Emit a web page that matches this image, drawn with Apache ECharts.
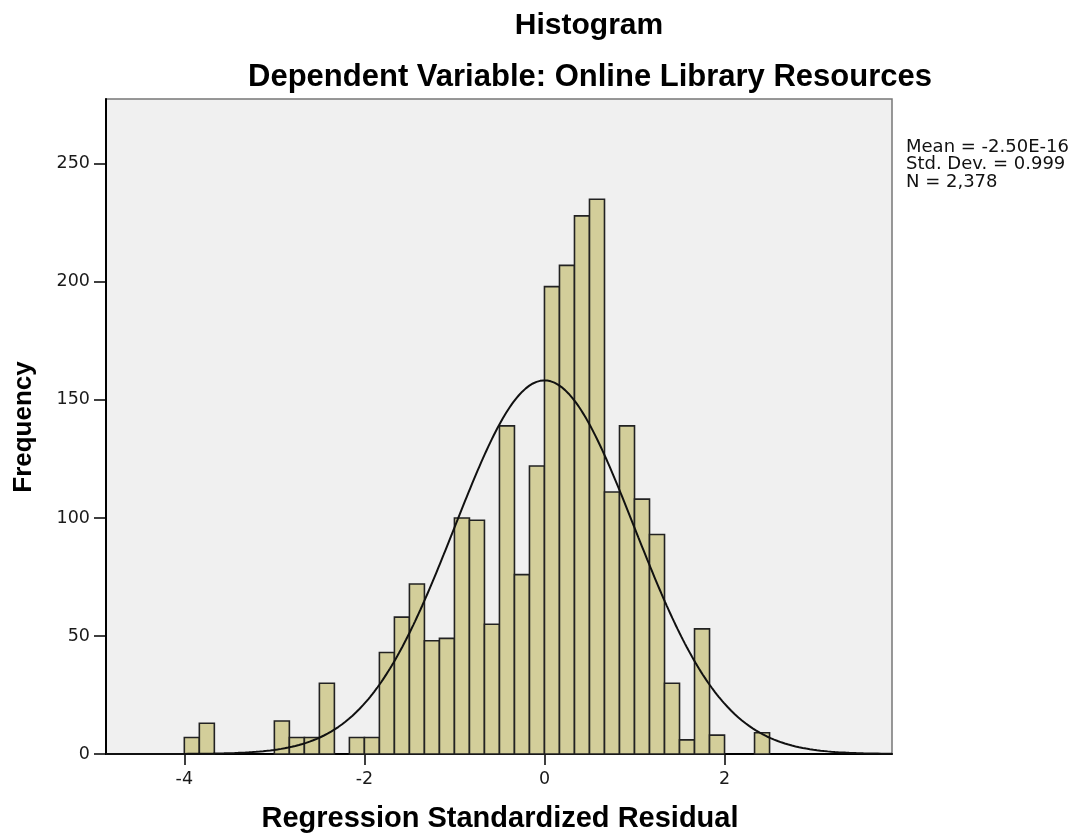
<!DOCTYPE html>
<html>
<head>
<meta charset="utf-8">
<script src="https://cdn.jsdelivr.net/npm/echarts@6/dist/echarts.min.js"></script>
<style>
  html, body { margin: 0; padding: 0; background: #fff; }
  #chart { width: 1075px; height: 834px; }
</style>
</head>
<body>
<div id="chart"></div>
<script>
// ---- data ----
const binLow = -4;          // lower edge of first bin
const binWidth = 1 / 6;     // bin width
const frequencies = [7, 13, 0, 0, 0, 0, 14, 7, 7, 30, 0, 7, 7, 43, 58, 72, 48, 49, 100, 99,
                     55, 139, 76, 122, 198, 207, 228, 235, 111, 139, 108, 93, 30, 6, 53, 8, 0, 0, 9];
const xTicks = [-4, -2, 0, 2];
const yTicks = [0, 50, 100, 150, 200, 250];
const statMean = -2.50e-16;
const statSD = 0.999;
const statN = 2378;
const statLines = ['Mean = -2.50E-16', 'Std. Dev. = 0.999', 'N = 2,378'];
const xRange = [-4.87, 3.86];
const yMax = 277.5;

// ---- build series data ----
const barData = [];
frequencies.forEach((f, i) => {
  if (f > 0) {
    const lo = binLow + i * binWidth;
    barData.push([lo, lo + binWidth, f]);
  }
});
// fitted normal curve scaled to counts: N * binWidth * pdf(x)
const curveData = [];
for (let k = 0; k <= 440; k++) {
  const x = xRange[0] + (xRange[1] - xRange[0]) * k / 440;
  const z = (x - statMean) / statSD;
  const y = statN * binWidth * Math.exp(-0.5 * z * z) / (statSD * Math.sqrt(2 * Math.PI));
  curveData.push([x, y]);
}

const FONT = '"Liberation Sans", Arial, sans-serif';
const TICKFONT = '"DejaVu Sans", sans-serif';

const chart = echarts.init(document.getElementById('chart'), null, { renderer: 'canvas' });
chart.setOption({
  animation: false,
  backgroundColor: '#ffffff',
  grid: {
    left: 106, right: 183, top: 99, bottom: 80,
    show: true, backgroundColor: '#f0f0f0', borderColor: '#777777', borderWidth: 1.5
  },
  xAxis: {
    type: 'value', min: xRange[0], max: xRange[1],
    splitLine: { show: false },
    axisLine: { show: true, onZero: false, lineStyle: { color: '#000', width: 2 } },
    axisTick: { show: true, length: 11, customValues: xTicks, lineStyle: { color: '#000', width: 1.5 } },
    axisLabel: { customValues: xTicks, margin: 16, color: '#1a1a1a', fontSize: 17.5, fontFamily: TICKFONT }
  },
  yAxis: {
    type: 'value', min: 0, max: yMax,
    splitLine: { show: false },
    axisLine: { show: true, onZero: false, lineStyle: { color: '#000', width: 2 } },
    axisTick: { show: true, length: 12, customValues: yTicks, lineStyle: { color: '#000', width: 1.5 } },
    axisLabel: { customValues: yTicks, margin: 16, color: '#1a1a1a', fontSize: 17.5, fontFamily: TICKFONT }
  },
  series: [
    {
      type: 'custom',
      data: barData,
      encode: { x: [0, 1], y: 2 },
      z: 2,
      renderItem: function (params, api) {
        const p0 = api.coord([api.value(0), api.value(2)]);
        const p1 = api.coord([api.value(1), 0]);
        return {
          type: 'rect',
          shape: { x: p0[0], y: p0[1], width: p1[0] - p0[0], height: p1[1] - p0[1] },
          style: { fill: '#d3ce9a', stroke: '#222222', lineWidth: 1.6 }
        };
      }
    },
    {
      type: 'line',
      data: curveData,
      showSymbol: false,
      symbol: 'none',
      smooth: false,
      clip: true,
      z: 3,
      lineStyle: { color: '#111', width: 2 }
    }
  ],
  graphic: [
    { type: 'text', x: 589, y: 26, style: { text: 'Histogram', align: 'center', verticalAlign: 'middle', font: 'bold 30px ' + FONT, fill: '#000' } },
    { type: 'text', x: 590, y: 77, style: { text: 'Dependent Variable: Online Library Resources', align: 'center', verticalAlign: 'middle', font: 'bold 31px ' + FONT, fill: '#000' } },
    { type: 'text', x: 500, y: 819, style: { text: 'Regression Standardized Residual', align: 'center', verticalAlign: 'middle', font: 'bold 29px ' + FONT, fill: '#000' } },
    { type: 'text', x: 24, y: 427, rotation: Math.PI / 2, style: { text: 'Frequency', align: 'center', verticalAlign: 'middle', font: 'bold 26px ' + FONT, fill: '#000' } },
    { type: 'text', x: 906, y: 147, style: { text: statLines[0], align: 'left', verticalAlign: 'middle', font: '18px ' + TICKFONT, fill: '#111' } },
    { type: 'text', x: 906, y: 164.5, style: { text: statLines[1], align: 'left', verticalAlign: 'middle', font: '18px ' + TICKFONT, fill: '#111' } },
    { type: 'text', x: 906, y: 182, style: { text: statLines[2], align: 'left', verticalAlign: 'middle', font: '18px ' + TICKFONT, fill: '#111' } }
  ]
});
</script>
</body>
</html>
